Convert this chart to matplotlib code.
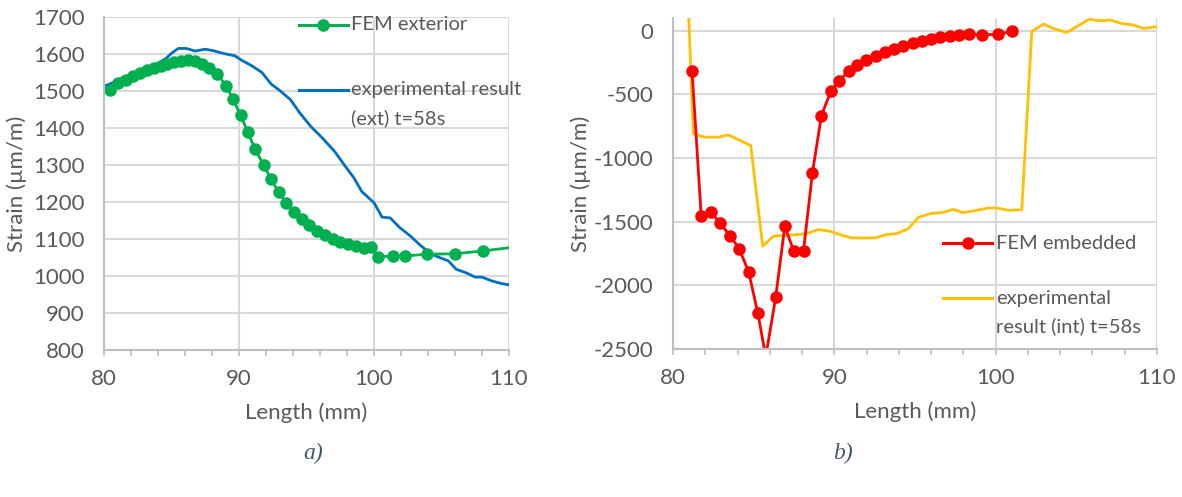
import matplotlib
matplotlib.use("Agg")
from matplotlib import pyplot as plt
from matplotlib.lines import Line2D

# two panels: exterior strain (a) and embedded strain (b) along the specimen length

plt.rcParams['font.family'] = ['Lato', 'DejaVu Sans']
plt.rcParams['axes.unicode_minus'] = False

TXT = '#595959'
GRID = '#D9D9D9'
SPINE = '#BFBFBF'
TICK_FS = 16
LABEL_FS = 16
LEG_FS = 14.5

# --- panel a data ---
fem_ext_x = [80.46, 81.0, 81.66, 82.17, 82.68, 83.19, 83.7, 84.2, 84.7, 85.2, 85.7, 86.25,
             86.75, 87.26, 87.77, 88.4, 89.05, 89.56, 90.12, 90.65, 91.2, 91.85, 92.36,
             92.95, 93.46, 94.07, 94.66, 95.2, 95.8, 96.36, 96.95, 97.5, 98.1, 98.66,
             99.25, 99.76, 100.3, 101.4, 102.3, 103.9, 106.0, 108.1, 112.0]
fem_ext_y = [1504, 1522, 1531, 1540, 1550, 1556, 1563, 1568, 1574, 1578, 1581, 1583,
             1581, 1574, 1563, 1545, 1514, 1478, 1434, 1389, 1342, 1299, 1261,
             1227, 1198, 1174, 1153, 1137, 1122, 1110, 1101, 1093, 1086, 1081,
             1077, 1078, 1052, 1054, 1054, 1059, 1060, 1068, 1085]

exp_ext_x = [80.0, 80.5, 81.0, 81.5, 82.2, 82.8, 83.4, 84.1, 84.6, 85.0, 85.5, 86.1, 86.75,
             87.5, 88.2, 88.9, 89.7, 90.2, 90.96, 91.7, 92.4, 93.0, 93.8, 94.5, 95.3,
             96.2, 97.1, 97.8, 98.5, 99.1, 100.0, 100.6, 101.2, 101.9, 102.7, 103.4,
             104.2, 104.85, 105.5, 106.1, 106.8, 107.5, 108.0, 108.7, 109.4, 110.0]
exp_ext_y = [1513, 1520, 1529, 1538, 1545, 1559, 1566, 1577, 1588, 1602, 1615, 1615, 1608,
             1613, 1608, 1601, 1595, 1583, 1568, 1550, 1518, 1502, 1477, 1441, 1405,
             1372, 1336, 1300, 1266, 1228, 1198, 1159, 1157, 1131, 1108, 1084,
             1060, 1050, 1041, 1018, 1009, 997, 997, 987, 980, 976]

# --- panel b data ---
fem_emb_x = [81.18, 81.75, 82.37, 82.91, 83.53, 84.1, 84.69, 85.26, 85.75, 86.37, 86.93,
             87.48, 88.09, 88.64, 89.2, 89.8, 90.31, 90.88, 91.42, 91.99, 92.58, 93.15,
             93.72, 94.28, 94.85, 95.42, 95.99, 96.55, 97.15, 97.72, 98.33, 99.14,
             100.17, 101.0]
fem_emb_y = [-313, -1458, -1426, -1510, -1609, -1711, -1894, -2220, -2560, -2090, -1536,
             -1729, -1729, -1118, -666, -470, -392, -319, -266, -230, -196, -170,
             -144, -123, -99, -84, -68, -52, -42, -31, -26, -34,
             -26, -5]

exp_int_x = [80.93, 81.26, 81.98, 82.81, 83.43, 84.15, 84.82, 85.56, 86.22, 87.05, 87.77,
             88.29, 89.01, 89.73, 90.46, 91.08, 92.52, 93.25, 93.87, 94.59, 95.21, 95.93,
             96.66, 97.38, 98.0, 98.83, 99.55, 100.07, 100.79, 101.62, 102.24, 102.96,
             103.68, 104.41, 105.13, 105.81, 106.37, 107.1, 107.82, 108.54, 109.16, 110.0]
exp_int_y = [250, -810, -836, -836, -818, -862, -901, -1693, -1614, -1606, -1601,
             -1594, -1562, -1575, -1606, -1628, -1628, -1601, -1594, -1554, -1466, -1437,
             -1429, -1403, -1429, -1411, -1392, -1392, -1411, -1406, -5, 52,
             13, -13, 39, 91, 78, 84, 57, 45, 18, 31]

W, H = 1182, 497
fig = plt.figure(figsize=(W / 100, H / 100), dpi=100)


def px_axes(left, top, right, bottom):
    return fig.add_axes([left / W, 1 - bottom / H, (right - left) / W, (bottom - top) / H])


def style(ax):
    ax.set_xlim(80, 110)
    ax.set_xticks([80, 90, 100, 110])
    ax.set_xticks(range(80, 111, 2), minor=True)
    ax.grid(True, which='major', color=GRID, linewidth=1.5)
    ax.set_axisbelow(True)
    for s in ['top', 'right']:
        ax.spines[s].set_visible(False)
    for s in ['left', 'bottom']:
        ax.spines[s].set_color(SPINE)
        ax.spines[s].set_linewidth(1.5)
    ax.tick_params(axis='y', length=0, pad=14, labelsize=TICK_FS, labelcolor=TXT)
    ax.tick_params(axis='x', which='both', length=4, width=1.2, color=SPINE, direction='out',
                   pad=10, labelsize=TICK_FS, labelcolor=TXT)
    ax.set_xlabel('Length (mm)', fontsize=LABEL_FS, color=TXT, labelpad=9)


def legend_entry(ax, x0, x1, y, color, lines, marker=False):
    ax.add_line(Line2D([x0, x1], [y, y], transform=ax.transAxes, color=color, lw=2.2,
                       clip_on=False))
    if marker:
        ax.add_line(Line2D([(x0 + x1) / 2], [y], transform=ax.transAxes, color=color,
                           marker='o', ms=8, clip_on=False))
    for i, t in enumerate(lines):
        ax.text(x1 + 0.008, y - i * 0.086, t, transform=ax.transAxes, fontsize=LEG_FS,
                color=TXT, va='center', ha='left')


# panel a
ax1 = px_axes(104, 17, 509, 350)
ax1.plot(exp_ext_x, exp_ext_y, color='#0070C0', lw=2.0)
ax1.plot(fem_ext_x, fem_ext_y, color='#00B050', lw=2.0, marker='o', ms=8)
style(ax1)
ax1.set_ylim(800, 1700)
ax1.set_yticks(range(800, 1701, 100))
ax1.set_ylabel('Strain (µm/m)', fontsize=LABEL_FS, color=TXT)
ax1.yaxis.set_label_coords(-0.19, 0.5)
legend_entry(ax1, 0.481, 0.602, 0.976, '#00B050', ['FEM exterior'], marker=True)
legend_entry(ax1, 0.481, 0.602, 0.781, '#0070C0', ['experimental result', '(ext) t=58s'])

# panel b
ax2 = px_axes(673, 18, 1157, 349)
ax2.plot(exp_int_x, exp_int_y, color='#FFC000', lw=2.0)
ax2.plot(fem_emb_x, fem_emb_y, color='#FF0000', lw=2.0, marker='o', ms=8)
style(ax2)
ax2.set_ylim(-2500, 100)
ax2.set_yticks(range(-2500, 1, 500))
ax2.set_ylabel('Strain (µm/m)', fontsize=LABEL_FS, color=TXT)
ax2.yaxis.set_label_coords(-0.17, 0.5)
legend_entry(ax2, 0.558, 0.659, 0.320, '#FF0000', ['FEM embedded'], marker=True)
legend_entry(ax2, 0.558, 0.659, 0.154, '#FFC000', ['experimental', 'result (int) t=58s'])

fig.text(313 / W, 1 - 453 / H, 'a)', family='Liberation Serif', style='italic',
         fontsize=17, color='#44546A', ha='center', va='center')
fig.text(843 / W, 1 - 453 / H, 'b)', family='Liberation Serif', style='italic',
         fontsize=17, color='#44546A', ha='center', va='center')

fig.savefig('out.png', dpi=100)
